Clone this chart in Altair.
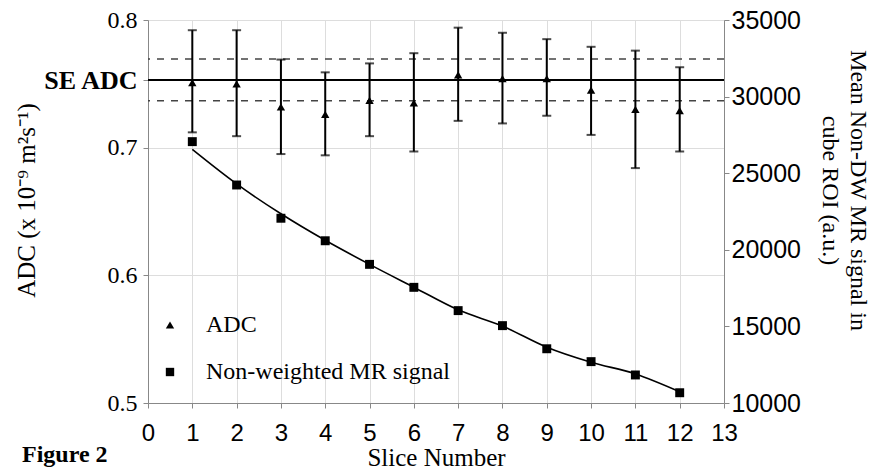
import altair as alt
import pandas as pd

# ---- data ----
slices = [1, 2, 3, 4, 5, 6, 7, 8, 9, 10, 11, 12]
adc = [0.751, 0.750, 0.732, 0.726, 0.737, 0.735, 0.757, 0.754, 0.754, 0.745, 0.730, 0.729]
adc_hi = [0.792, 0.792, 0.769, 0.759, 0.766, 0.774, 0.794, 0.790, 0.785, 0.779, 0.776, 0.763]
adc_lo = [0.712, 0.709, 0.695, 0.694, 0.709, 0.697, 0.721, 0.719, 0.725, 0.710, 0.684, 0.697]
signal = [27060, 24230, 22060, 20590, 19050, 17550, 16030, 15050, 13540, 12700, 11830, 10670]
signal_fit = [26550, 24300, 22350, 20620, 19050, 17560, 16080, 15020, 13640, 12660, 11900, 10740]

se_adc = 0.753
se_band = [0.7368, 0.7695]

left_ticks = [0.5, 0.6, 0.7, se_adc, 0.8]
right_ticks = [10000, 15000, 20000, 25000, 30000, 35000]
x_ticks = list(range(0, 14))
series_names = ["ADC", "Non-weighted MR signal"]

df = pd.DataFrame({"slice": slices, "adc": adc, "lo": adc_lo, "hi": adc_hi,
                   "signal": signal, "fit": signal_fit})
se_df = pd.DataFrame({"v": [se_adc]})
band_df = pd.DataFrame({"v": se_band})
fig_df = pd.DataFrame({"t": ["Figure 2"]})

SERIF = "Liberation Serif"
SANS = "Liberation Sans"

x_enc = alt.X("slice:Q", scale=alt.Scale(domain=[0, 13], nice=False, zero=False),
              axis=alt.Axis(values=x_ticks, format="d", title="Slice Number",
                            labelFont=SANS, labelFontSize=24, labelPadding=13,
                            labelFlush=False,
                            titleFont=SERIF, titleFontSize=25, titleFontWeight="normal",
                            titlePadding=0))

left_scale = alt.Scale(domain=[0.5, 0.8], nice=False, zero=False)
sel = "datum.value > 0.74 && datum.value < 0.76"
left_axis = alt.Axis(values=left_ticks,
                     labelExpr=f"{sel} ? 'SE ADC' : format(datum.value, '.1f')",
                     labelFont=SERIF,
                     labelFontSize={"condition": {"test": sel, "value": 26}, "value": 24},
                     labelFontWeight={"condition": {"test": sel, "value": "bold"}, "value": "normal"},
                     labelPadding=6, labelFlush=False,
                     title="ADC (x 10⁻⁹ m²s⁻¹)", titleFont=SERIF, titleFontSize=25,
                     titleFontWeight="normal", titlePadding=3, titleY=180)

shape_scale = alt.Scale(domain=series_names, range=["triangle-up", "square"])
legend = alt.Legend(title=None, orient="none", legendX=10, legendY=293, padding=0,
                    symbolSize=70, symbolFillColor="black", symbolStrokeColor="black",
                    labelFont=SERIF, labelFontSize=24, labelLimit=400, labelOffset=24,
                    rowPadding=23, labelColor="black")

base = alt.Chart(df)

err = base.mark_rule(color="black", strokeWidth=2).encode(
    x=x_enc, y=alt.Y("lo:Q", scale=left_scale, axis=left_axis), y2="hi:Q")
cap_hi = base.mark_tick(orient="horizontal", size=9, thickness=2, color="black").encode(
    x=x_enc, y=alt.Y("hi:Q", scale=left_scale, axis=left_axis))
cap_lo = base.mark_tick(orient="horizontal", size=9, thickness=2, color="black").encode(
    x=x_enc, y=alt.Y("lo:Q", scale=left_scale, axis=left_axis))
se_line = alt.Chart(se_df).mark_rule(color="black", strokeWidth=2).encode(
    y=alt.Y("v:Q", scale=left_scale, axis=left_axis))
band_lines = alt.Chart(band_df).mark_rule(color="#444444", strokeWidth=1.5, strokeDash=[7, 7]).encode(
    y=alt.Y("v:Q", scale=left_scale, axis=left_axis))
tri = base.transform_calculate(series="'ADC'").mark_point(
    filled=True, color="black", opacity=1, size=70).encode(
    x=x_enc, y=alt.Y("adc:Q", scale=left_scale, axis=left_axis),
    shape=alt.Shape("series:N", scale=shape_scale, legend=legend))
fig_label = alt.Chart(fig_df).mark_text(font=SERIF, fontSize=24, fontWeight="bold",
                                        align="left", baseline="alphabetic", color="black").encode(
    text="t:N", x=alt.value(-126), y=alt.value(442))

left = alt.layer(band_lines, se_line, err, cap_hi, cap_lo, tri, fig_label)

right_scale = alt.Scale(domain=[10000, 35000], nice=False, zero=False)
right_axis = alt.Axis(orient="right", values=right_ticks, format="d",
                      labelFont=SANS, labelFontSize=25, labelPadding=2, labelFlush=False,
                      title=["Mean Non-DW MR signal in", "cube ROI (a.u.)"],
                      titleFont=SERIF, titleFontSize=24, titleFontWeight="normal",
                      titlePadding=17, titleY=170, titleLineHeight=28)

fit_line = base.mark_line(color="black", strokeWidth=1.6, interpolate="monotone").encode(
    x=x_enc, y=alt.Y("fit:Q", scale=right_scale, axis=right_axis))
squares = base.transform_calculate(series="'Non-weighted MR signal'").mark_point(
    filled=True, color="black", opacity=1, size=80).encode(
    x=x_enc, y=alt.Y("signal:Q", scale=right_scale, axis=right_axis),
    shape=alt.Shape("series:N", scale=shape_scale, legend=legend))

right = alt.layer(fit_line, squares)

chart = alt.layer(left, right).resolve_scale(y="independent").properties(
    width=576, height=383,
    padding={"left": 140, "top": 12, "right": 152, "bottom": 66},
    autosize=alt.AutoSizeParams(type="none"),
).configure_view(stroke="black", strokeWidth=2).configure_axis(
    domainColor="black", domainWidth=2, tickColor="black", tickWidth=2, tickSize=10,
    grid=False, labelColor="black", titleColor="black", labelOverlap=False,
).configure(background="white")

chart.save("out.html", embed_options={"renderer": "svg", "actions": False})
